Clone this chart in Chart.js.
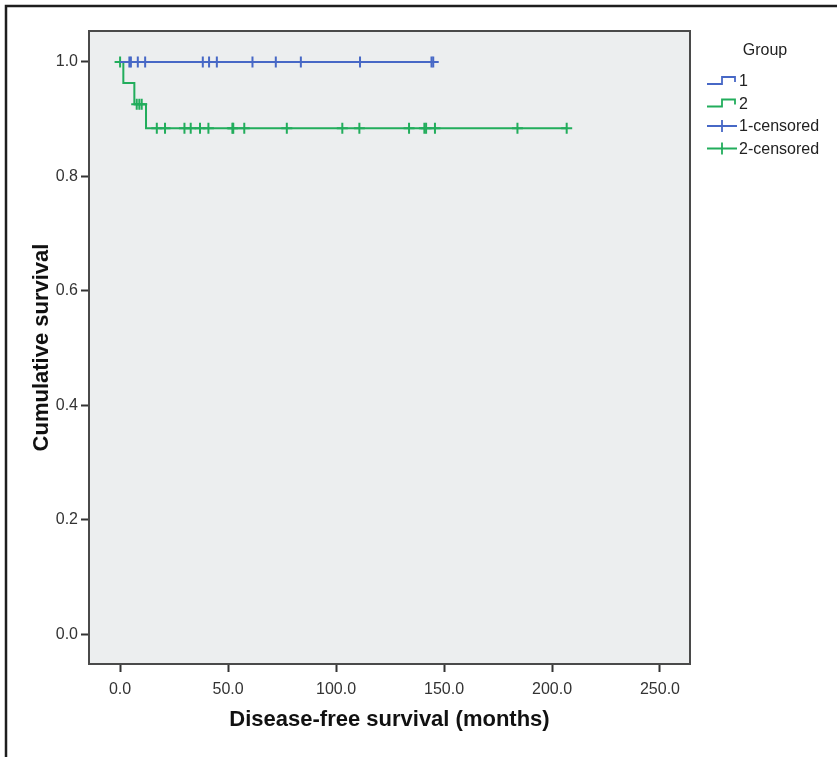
<!DOCTYPE html>
<html>
<head>
<meta charset="utf-8">
<script src="https://cdn.jsdelivr.net/npm/chart.js@4"></script>
<style>
  html, body { margin: 0; padding: 0; background: #fff; }
  #wrap { width: 837px; height: 757px; }
</style>
</head>
<body>
<div id="wrap"><canvas id="kmChart" width="837" height="757"></canvas></div>
<script>
// values (months / cumulative survival)
const xTicks = [0, 50, 100, 150, 200, 250];
const yTicks = [0, 0.2, 0.4, 0.6, 0.8, 1.0];
const group1Times = [0, 145.0];
const group1Surv = [1.0, 1.0];
const group1Censored = [4.3, 5.0, 8.2, 11.6, 38.3, 41.2, 44.8, 61.3, 72.1, 83.7, 111.1, 144.2, 145.0];
const group2Times = [0, 1.5, 6.6, 12.0, 207.0];
const group2Surv = [1.0, 0.963, 0.926, 0.884, 0.884];
const group2Censored = [0, 7.7, 8.9, 10.0, 17.0, 20.8, 29.8, 32.7, 37.0, 40.9, 52.0, 52.4, 57.5, 77.2,
    102.9, 110.8, 133.8, 140.9, 141.7, 145.8, 184.0, 206.8];
const legendTitle = 'Group';
const legendLabels = ['1', '2', '1-censored', '2-censored'];

const blue = '#4768c6';
const green = '#22ad5c';
const FONT = '"Liberation Sans", Arial, sans-serif';

// survival value of a step curve at time t
function survAt(times, surv, t) {
    let s = surv[0];
    for (let i = 0; i < times.length; i++) {
        if (times[i] <= t) s = surv[i];
    }
    return s;
}

const curve = (times, surv) => times.map((t, i) => ({ x: t, y: surv[i] }));
const marks = (cens, times, surv) => cens.map(t => ({ x: t, y: survAt(times, surv, t) }));

const framePlugin = {
    id: 'frame',
    beforeDraw(chart) {
        const { ctx, chartArea: a } = chart;
        ctx.save();
        ctx.fillStyle = '#eceeef';
        ctx.fillRect(a.left, a.top, a.right - a.left, a.bottom - a.top);
        ctx.restore();
    },
    afterDraw(chart) {
        const { ctx, chartArea: a } = chart;
        ctx.save();
        // plot box
        ctx.strokeStyle = '#4a4a4a';
        ctx.lineWidth = 2;
        ctx.strokeRect(a.left, a.top, a.right - a.left, a.bottom - a.top);
        // outer frame (top + left)
        ctx.strokeStyle = '#1e1e1e';
        ctx.lineWidth = 2.5;
        ctx.beginPath();
        ctx.moveTo(837, 6);
        ctx.lineTo(6, 6);
        ctx.lineTo(6, 757);
        ctx.stroke();

        // legend
        ctx.fillStyle = '#222';
        ctx.font = '16px ' + FONT;
        ctx.textBaseline = 'middle';
        ctx.textAlign = 'center';
        ctx.fillText(legendTitle, 765, 51);
        ctx.textAlign = 'left';
        const colors = [blue, green, blue, green];
        legendLabels.forEach((lab, i) => {
            const y = 81 + i * 22.5;
            ctx.strokeStyle = colors[i];
            ctx.lineWidth = 1.8;
            ctx.beginPath();
            if (i < 2) {
                ctx.moveTo(707, y + 3);
                ctx.lineTo(722, y + 3);
                ctx.lineTo(722, y - 4);
                ctx.lineTo(735, y - 4);
                ctx.lineTo(735, y + 1);
            } else {
                ctx.moveTo(707, y);
                ctx.lineTo(737, y);
                ctx.moveTo(722, y - 6);
                ctx.lineTo(722, y + 6);
            }
            ctx.stroke();
            ctx.fillStyle = '#222';
            ctx.fillText(lab, 739, y + 1);
        });
        ctx.restore();
    }
};

const ctx = document.getElementById('kmChart').getContext('2d');
new Chart(ctx, {
    type: 'scatter',
    data: {
        datasets: [
            {
                label: '1',
                data: curve(group1Times, group1Surv),
                showLine: true, stepped: true,
                borderColor: blue, borderWidth: 2, pointRadius: 0, fill: false
            },
            {
                label: '2',
                data: curve(group2Times, group2Surv),
                showLine: true, stepped: true,
                borderColor: green, borderWidth: 2, pointRadius: 0, fill: false
            },
            {
                label: '1-censored',
                data: marks(group1Censored, group1Times, group1Surv),
                showLine: false, pointStyle: 'cross', pointRadius: 5.5,
                borderColor: blue, backgroundColor: blue, pointBorderWidth: 2
            },
            {
                label: '2-censored',
                data: marks(group2Censored, group2Times, group2Surv),
                showLine: false, pointStyle: 'cross', pointRadius: 5.5,
                borderColor: green, backgroundColor: green, pointBorderWidth: 2
            }
        ]
    },
    options: {
        responsive: false,
        animation: false,
        devicePixelRatio: 1,
        layout: { padding: { top: 31, right: 147, left: 0, bottom: 0 } },
        plugins: {
            legend: { display: false },
            tooltip: { enabled: false }
        },
        scales: {
            x: {
                type: 'linear',
                min: -14.4,
                max: 263.9,
                afterBuildTicks: scale => { scale.ticks = xTicks.map(v => ({ value: v })); },
                afterFit: scale => { scale.height = 93; },
                grid: { drawOnChartArea: false, drawTicks: true, tickLength: 8, tickColor: '#333', tickWidth: 2 },
                border: { display: true, color: '#4a4a4a', width: 2 },
                ticks: {
                    padding: 8,
                    color: '#333',
                    font: { family: FONT, size: 16 },
                    maxRotation: 0,
                    callback: v => v.toFixed(1)
                },
                title: {
                    display: true,
                    text: 'Disease-free survival (months)',
                    color: '#111',
                    font: { family: FONT, size: 22, weight: 'bold' },
                    padding: { top: 0, bottom: 24 }
                }
            },
            y: {
                type: 'linear',
                min: -0.052,
                max: 1.054,
                afterBuildTicks: scale => { scale.ticks = yTicks.map(v => ({ value: v })); },
                afterFit: scale => { scale.width = 89; },
                grid: { drawOnChartArea: false, drawTicks: true, tickLength: 8, tickColor: '#333', tickWidth: 2 },
                border: { display: true, color: '#4a4a4a', width: 2 },
                ticks: {
                    padding: 3,
                    color: '#333',
                    font: { family: FONT, size: 16 },
                    callback: v => v.toFixed(1)
                },
                title: {
                    display: true,
                    text: 'Cumulative survival',
                    color: '#111',
                    font: { family: FONT, size: 22, weight: 'bold' },
                    padding: { top: 29, bottom: 0 }
                }
            }
        }
    },
    plugins: [framePlugin]
});
</script>
</body>
</html>
